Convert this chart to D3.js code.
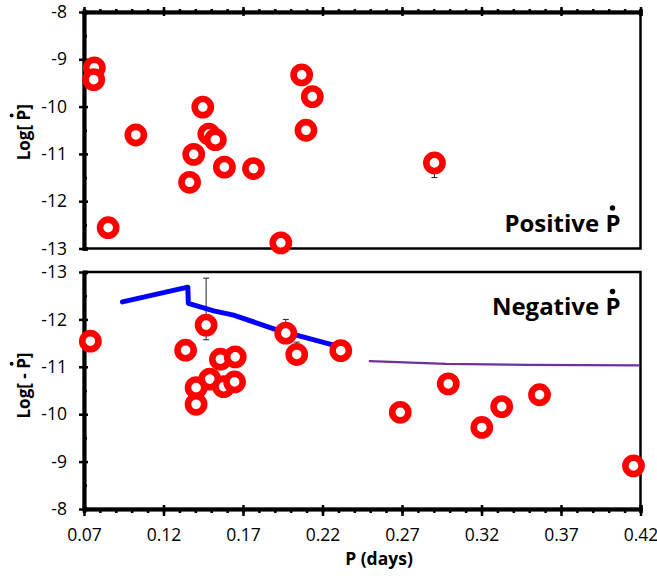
<!DOCTYPE html>
<html>
<head>
<meta charset="utf-8">
<script src="https://cdn.jsdelivr.net/npm/d3@7"></script>
<style>
  body { margin: 0; background: #fff; }
  text { font-family: "Open Sans", Lato, sans-serif; }
</style>
</head>
<body>
<div id="chart"></div>
<script>
// Positive period change rate (top panel)
var posPeriod = [0.0765, 0.0761, 0.1026, 0.0852, 0.1447, 0.1390, 0.1364, 0.1485, 0.1526, 0.1583, 0.1766, 0.1938, 0.2069, 0.2136, 0.2096, 0.2904];
var posLogPdot = [-9.18, -9.43, -10.60, -12.56, -10.01, -11.01, -11.60, -10.58, -10.70, -11.28, -11.31, -12.88, -9.33, -9.79, -10.50, -11.19];

// Negative period change rate (bottom panel)
var negPeriod = [0.0740, 0.1339, 0.1468, 0.1558, 0.1651, 0.1491, 0.1405, 0.1578, 0.1647, 0.1405, 0.1969, 0.2038, 0.2315, 0.2689, 0.2991, 0.3202, 0.3327, 0.3565, 0.4156];
var negLogPdot = [-11.54, -11.35, -11.88, -11.16, -11.21, -10.74, -10.56, -10.58, -10.68, -10.21, -11.71, -11.26, -11.34, -10.04, -10.64, -9.72, -10.16, -10.41, -8.91];

// Error bars: period, lower end, upper end
var posErrPeriod = [0.1938, 0.2904];
var posErrFrom = [-12.88, -11.50];
var posErrTo = [-12.66, -11.19];
var negErrPeriod = [0.1468, 0.1969, 0.2038];
var negErrFrom = [-12.87, -12.00, -11.52];
var negErrTo = [-11.57, -11.71, -11.26];

// Model curves in the bottom panel
var blueP = [0.0942, 0.1353, 0.1356, 0.1516, 0.1641, 0.1913, 0.2247, 0.2285];
var blueLog = [-12.37, -12.68, -12.34, -12.18, -12.09, -11.78, -11.48, -11.44];
var purpleP = [0.2497, 0.2977, 0.3500, 0.4188];
var purpleLog = [-11.12, -11.06, -11.04, -11.03];

// Axis ticks
var xMajor = [0.07, 0.12, 0.17, 0.22, 0.27, 0.32, 0.37, 0.42];
var xMinor = d3.range(7, 43).map(function (d) { return d / 100; });
var yMajor = [-13, -12, -11, -10, -9, -8];
var yMinor = [-12.5, -11.5, -10.5, -9.5, -8.5];

var width = 657, height = 576;
var left = 84, right = 640.5;

var svg = d3.select("#chart").append("svg")
    .attr("width", width)
    .attr("height", height);

var x = d3.scaleLinear().domain([0.07, 0.42]).range([left, right]);
var yTop = d3.scaleLinear().domain([-13, -8]).range([248.5, 12]);
var yBot = d3.scaleLinear().domain([-13, -8]).range([272, 509]);

function zip(a, b) {
    return a.map(function (v, i) { return {x: v, y: b[i]}; });
}

function drawPanel(y, xAxisAtTop) {
    var y0 = Math.min(y.range()[0], y.range()[1]);
    var y1 = Math.max(y.range()[0], y.range()[1]);

    // plot area border
    svg.append("rect")
        .attr("x", left).attr("y", y0)
        .attr("width", right - left).attr("height", y1 - y0)
        .attr("fill", "none").attr("stroke", "#000").attr("stroke-width", 2.5);

    // y axis: labelled outer ticks, inner half of crossing ticks, inner minor ticks
    var g = svg.append("g").attr("transform", "translate(" + left + ",0)");
    g.call(d3.axisLeft(y).tickValues(yMajor).tickSizeInner(5).tickSizeOuter(0).tickPadding(12)
        .tickFormat(function (d) { return String(d); }));
    g.append("g").call(d3.axisRight(y).tickValues(yMajor).tickSize(4).tickFormat(""));
    g.append("g").call(d3.axisRight(y).tickValues(yMinor).tickSize(3).tickFormat(""));
    g.selectAll(".domain").attr("stroke-width", 3.5);
    g.selectAll(".tick line").attr("stroke-width", 2.5);
    g.selectAll(".tick text").attr("font-size", 17.5).attr("fill", "#000");

    // x axis line (top panel: at the top, no labels)
    var xa = svg.append("g").attr("transform", "translate(0," + (xAxisAtTop ? y0 : y1) + ")");
    if (xAxisAtTop) {
        xa.call(d3.axisTop(x).tickValues(xMajor).tickSizeInner(5).tickSizeOuter(0).tickFormat(""));
        xa.append("g").call(d3.axisBottom(x).tickValues(xMajor).tickSize(4).tickFormat(""));
        xa.append("g").call(d3.axisTop(x).tickValues(xMinor).tickSize(3).tickFormat(""));
    } else {
        xa.call(d3.axisBottom(x).tickValues(xMajor).tickSizeInner(7).tickSizeOuter(0).tickPadding(13)
            .tickFormat(d3.format(".2f")));
        xa.append("g").call(d3.axisTop(x).tickValues(xMajor).tickSize(4).tickFormat(""));
        xa.append("g").call(d3.axisBottom(x).tickValues(xMinor).tickSize(4).tickFormat(""));
    }
    xa.selectAll(".domain").attr("stroke-width", 3.5);
    xa.selectAll(".tick line").attr("stroke-width", 2.5);
    xa.selectAll(".tick text").attr("font-size", 17.5).attr("fill", "#000");
}

function drawErrors(y, ps, from, to) {
    var g = svg.append("g").attr("stroke", "#222").attr("stroke-width", 1);
    ps.forEach(function (p, i) {
        g.append("line")
            .attr("x1", x(p)).attr("x2", x(p))
            .attr("y1", y(from[i])).attr("y2", y(to[i]));
        [from[i], to[i]].forEach(function (v) {
            g.append("line")
                .attr("x1", x(p) - 3).attr("x2", x(p) + 3)
                .attr("y1", y(v)).attr("y2", y(v));
        });
    });
}

function drawCurve(y, ps, logs, color, w) {
    var line = d3.line()
        .x(function (d) { return x(d.x); })
        .y(function (d) { return y(d.y); });
    svg.append("path")
        .datum(zip(ps, logs))
        .attr("fill", "none")
        .attr("stroke", color)
        .attr("stroke-width", w)
        .attr("stroke-linejoin", "round")
        .attr("stroke-linecap", "round")
        .attr("d", line);
}

function drawPoints(y, ps, logs) {
    svg.append("g")
        .selectAll("circle")
        .data(zip(ps, logs))
        .enter()
        .append("circle")
        .attr("cx", function (d) { return x(d.x); })
        .attr("cy", function (d) { return y(d.y); })
        .attr("r", 8.1)
        .attr("fill", "#fff")
        .attr("stroke", "#ff0000")
        .attr("stroke-width", 6.6);
}

// bold text with a dot placed over the character at index dotIndex (the P-dot)
function dottedText(parent, str, dotIndex, size, anchor, lift) {
    var t = parent.append("text")
        .attr("font-size", size)
        .attr("font-weight", "bold")
        .attr("text-anchor", anchor)
        .style("white-space", "pre")
        .text(str);
    var box = t.node().getExtentOfChar(dotIndex);
    parent.append("circle")
        .attr("cx", box.x + box.width * 0.47)
        .attr("cy", -size * lift)
        .attr("r", size * 0.115)
        .attr("fill", "#000");
    return t;
}

drawPanel(yTop, true);
drawPanel(yBot, false);

drawErrors(yTop, posErrPeriod, posErrFrom, posErrTo);
drawErrors(yBot, negErrPeriod, negErrFrom, negErrTo);

drawCurve(yBot, blueP, blueLog, "#0000ff", 5);
drawCurve(yBot, purpleP, purpleLog, "#7030a0", 2.2);

drawPoints(yTop, posPeriod, posLogPdot);
drawPoints(yBot, negPeriod, negLogPdot);

// panel annotations
var ann1 = svg.append("g").attr("transform", "translate(" + (right - 20) + "," + (yTop(-13) - 17) + ")");
dottedText(ann1, "Positive P", 9, 24, "end", 0.98);
var ann2 = svg.append("g").attr("transform", "translate(" + (right - 20) + "," + (yBot(-13) + 43) + ")");
dottedText(ann2, "Negative P", 9, 24, "end", 0.98);

// axis titles
var yt1 = svg.append("g").attr("transform", "translate(30," + ((yTop(-8) + yTop(-13)) / 2 + 2) + ") rotate(-90)");
dottedText(yt1, "Log[ P]", 5, 17, "middle", 1.08);
var yt2 = svg.append("g").attr("transform", "translate(30," + ((yBot(-8) + yBot(-13)) / 2 - 5) + ") rotate(-90)");
dottedText(yt2, "Log[ - P]", 7, 17, "middle", 1.08);

svg.append("text")
    .attr("x", 379).attr("y", 565)
    .attr("text-anchor", "middle")
    .attr("font-size", 17.5).attr("font-weight", "bold")
    .text("P (days)");
</script>
</body>
</html>
